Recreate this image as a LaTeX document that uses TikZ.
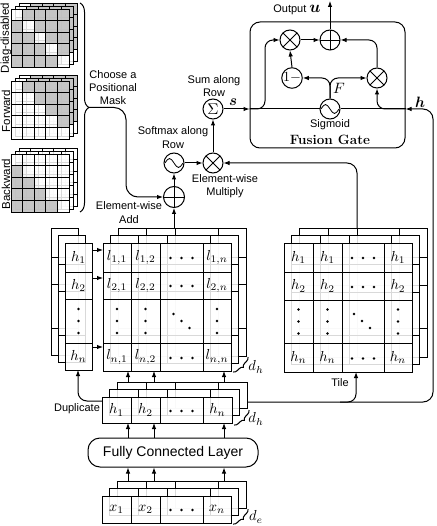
\documentclass[tikz,border=0pt]{standalone}
\usepackage{fontspec}
\usepackage{graphicx}
\usepackage{bm}
\newfontfamily\lsans{Liberation Sans}
\usetikzlibrary{arrows.meta,decorations.pathreplacing,calc}
\definecolor{mgray}{gray}{0.74}
\newcommand{\cm}[1]{\scalebox{1.45}{$#1$}}
\newcommand{\bmm}[1]{\scalebox{1.5}{$#1$}}
\newcommand{\glayer}[7]{%
 \begin{scope}[shift={#1}]
  \fill[white,fill opacity=0.85] (#2,#3) rectangle (#4,#5);
  \foreach \xx in {#6}{\draw[gl] (\xx,#3) -- (\xx,#5);}
  \foreach \yy in {#7}{\draw[gl] (#2,\yy) -- (#4,\yy);}
  \draw[gl] (#2,#3) rectangle (#4,#5);
 \end{scope}}
\newcommand{\maskstack}[2]{%
 \foreach \s in {2,1,0}{%
  \begin{scope}[shift={(4*\s,-3*\s)}]
   \fill[white,fill opacity=0.85] (11,#1) rectangle (69,#1+58);
   \foreach \i in {0,...,4}{\foreach \j in {0,...,4}{%
     \pgfmathtruncatemacro{\g}{(#2==0)*(\i!=\j)+(#2==1)*(\j>\i)+(#2==2)*(\j<\i)}%
     \ifnum\g>0 \fill[mgray,fill opacity=0.85] (11+11.6*\j,#1+11.6*\i) rectangle (22.6+11.6*\j,#1+11.6+11.6*\i);\fi
   }}
   \foreach \k in {1,...,4}{\draw[gl] (11+11.6*\k,#1) -- (11+11.6*\k,#1+58); \draw[gl] (11,#1+11.6*\k) -- (69,#1+11.6*\k);}
   \draw[gl] (11,#1) rectangle (69,#1+58);
  \end{scope}}}
\newcommand{\mhd}[2]{\foreach \k in {-1,0,1}{\fill (#1+11*\k,#2) circle[radius=1.3pt];}}
\newcommand{\mvd}[2]{\foreach \k in {-1,0,1}{\fill (#1,#2+12*\k) circle[radius=1.3pt];}}
\newcommand{\mdd}[2]{\foreach \k in {-1,0,1}{\fill (#1+8*\k,#2+7*\k) circle[radius=1.3pt];}}
\begin{document}
\begin{tikzpicture}[x=1pt,y=-1pt,line width=1pt,
  arr/.style={-{Latex[length=6pt,width=4.5pt]}},
  gl/.style={line width=0.9pt},
  op/.style={circle,draw,minimum size=20pt,inner sep=0pt,fill=white},
  plusop/.style={op,path picture={\draw[line width=0.8pt] ([xshift=-12pt]path picture bounding box.center) -- ([xshift=12pt]path picture bounding box.center) ([yshift=-12pt]path picture bounding box.center) -- ([yshift=12pt]path picture bounding box.center);}},
  timesop/.style={op,path picture={\draw[line width=0.8pt] ([xshift=-9pt,yshift=-9pt]path picture bounding box.center) -- ([xshift=9pt,yshift=9pt]path picture bounding box.center) ([xshift=-9pt,yshift=9pt]path picture bounding box.center) -- ([xshift=9pt,yshift=-9pt]path picture bounding box.center);}},
  sinop/.style={op,path picture={\path (path picture bounding box.center) coordinate (ppc);
     \draw[line width=0.8pt] ($(ppc)+(-9,0)$) sin ($(ppc)+(-4.5,-4.5)$) cos (ppc) sin ($(ppc)+(4.5,4.5)$) cos ($(ppc)+(9,0)$);}},
  lbl/.style={font=\lsans\fontsize{11}{13.3}\selectfont,align=center,inner sep=0pt},
  cell/.style={inner sep=0pt}]
\useasboundingbox (0,0) rectangle (436,526);

% ---------- masks ----------
\maskstack{9}{0}
\maskstack{81}{1}
\maskstack{154}{2}
\node[lbl,rotate=90,font=\lsans\fontsize{11.5}{13}\selectfont] (lbdiag) at (6,38) {Diag-disabled};
\node[lbl,rotate=90,font=\lsans\fontsize{11.5}{13}\selectfont] (lbfwd) at (6,111) {Forward};
\node[lbl,rotate=90,font=\lsans\fontsize{11.5}{13}\selectfont] (lbbwd) at (6,184) {Backward};
\draw[decorate,decoration={brace,amplitude=9pt}] (80,3) -- (80,212);
\coordinate (btip) at (89,107.5);
\node[lbl] (choose) at (113,87.5) {Choose a\\Positional\\Mask};

% ---------- x row ----------
\glayer{(15,-15)}{102}{496}{231}{523}{131,160,203}{496}
\glayer{(7.5,-7.5)}{102}{496}{231}{523}{131,160,203}{496}
\glayer{(0,0)}{102}{496}{231}{523}{131,160,203}{496}
\node[cell] (x1) at (116.5,509.5) {\cm{x_1}};
\node[cell] (x2) at (145.5,509.5) {\cm{x_2}};
\mhd{181.5}{510}
\node[cell] (xn) at (217,509.5) {\cm{x_n}};
\draw[decorate,decoration={brace,amplitude=4pt}] (248,509) -- (233,524);
\node[cell] (de) at (256,517) {\cm{d_e}};

% ---------- FCL ----------
\node[draw,rounded corners=12pt,minimum width=170pt,minimum height=29pt,inner sep=0pt,font=\lsans\fontsize{14}{16}\selectfont] (fcl) at (173,452.5) {Fully Connected Layer};
\foreach \xx in {128,154,224}{\draw[arr] (\xx,481) -- (\xx,0 |- fcl.south);}

% ---------- h row ----------
\glayer{(15,-15)}{102}{397}{232}{423}{131,160,203}{397}
\glayer{(7.5,-7.5)}{102}{397}{232}{423}{131,160,203}{397}
\glayer{(0,0)}{102}{397}{232}{423}{131,160,203}{397}
\node[cell] (hr1) at (116.5,410) {\cm{h_1}};
\node[cell] (hr2) at (145.5,410) {\cm{h_2}};
\mhd{181.5}{411}
\node[cell] (hrn) at (217.5,410) {\cm{h_n}};
\draw[decorate,decoration={brace,amplitude=4pt}] (249,410) -- (234,425);
\node[cell] (dh1) at (256,419) {\cm{d_h}};
\foreach \xx in {128,154,224}{\draw[arr] (\xx,0 |- fcl.north) -- (\xx,423);}
\node[lbl] (dup) at (77,409) {Duplicate};

% ---------- h column ----------
\glayer{(-14,-15)}{65}{243}{92}{370}{65}{272,299,343}
\glayer{(-7,-7.5)}{65}{243}{92}{370}{65}{272,299,343}
\glayer{(0,0)}{65}{243}{92}{370}{65}{272,299,343}
\node[cell] (hc1) at (78.5,257.5) {\cm{h_1}};
\node[cell] (hc2) at (78.5,285.5) {\cm{h_2}};
\mvd{78.5}{321}
\node[cell] (hcn) at (78.5,356.5) {\cm{h_n}};
\draw[arr,rounded corners=9pt] (102,401) -- (78,401) -- (78,370);

% ---------- L matrix ----------
\glayer{(15,-15)}{103}{243}{231}{371}{131,160,203}{272,299,343}
\glayer{(7.5,-7.5)}{103}{243}{231}{371}{131,160,203}{272,299,343}
\glayer{(0,0)}{103}{243}{231}{371}{131,160,203}{272,299,343}
\node[cell] (l11) at (117,257.5) {\cm{l_{1,1}}};
\node[cell] (l12) at (145.5,257.5) {\cm{l_{1,2}}};
\mhd{181.5}{258}
\node[cell] (l1n) at (217,257.5) {\cm{l_{1,n}}};
\node[cell] (l21) at (117,285.5) {\cm{l_{2,1}}};
\node[cell] (l22) at (145.5,285.5) {\cm{l_{2,2}}};
\mhd{181.5}{286}
\node[cell] (l2n) at (217,285.5) {\cm{l_{2,n}}};
\mvd{117}{321}\mvd{145.5}{321}\mdd{181.5}{321}\mvd{217}{321}
\node[cell] (ln1) at (117,357) {\cm{l_{n,1}}};
\node[cell] (ln2) at (145.5,357) {\cm{l_{n,2}}};
\mhd{181.5}{358}
\node[cell] (lnn) at (217,357) {\cm{l_{n,n}}};
\draw[decorate,decoration={brace,amplitude=4pt}] (248,357) -- (233,372);
\node[cell] (dh2) at (256,367) {\cm{d_h}};
\foreach \yy in {250,278,347}{\draw[arr] (92,\yy) -- (103,\yy);}
\foreach \xx in {128,154,224}{\draw[arr] (\xx,382) -- (\xx,371);}

% ---------- tiled H ----------
\glayer{(15,-15)}{284}{243}{412}{372}{313,342,384}{272,300,343}
\glayer{(7.5,-7.5)}{284}{243}{412}{372}{313,342,384}{272,300,343}
\glayer{(0,0)}{284}{243}{412}{372}{313,342,384}{272,300,343}
\node[cell] (t11) at (298.5,257.5) {\cm{h_1}};
\node[cell] (t12) at (327.5,257.5) {\cm{h_1}};
\mhd{363}{258}
\node[cell] (t1n) at (398,257.5) {\cm{h_1}};
\node[cell] (t21) at (298.5,286) {\cm{h_2}};
\node[cell] (t22) at (327.5,286) {\cm{h_2}};
\mhd{363}{287}
\node[cell] (t2n) at (398,286) {\cm{h_2}};
\mvd{298.5}{321.5}\mvd{327.5}{321.5}\mdd{362}{321}\mvd{398}{321.5}
\node[cell] (tn1) at (298.5,357.5) {\cm{h_n}};
\node[cell] (tn2) at (327.5,357.5) {\cm{h_n}};
\mhd{363}{358.5}
\node[cell] (tnn) at (398,357.5) {\cm{h_n}};
\node[lbl] (tile) at (340,383) {Tile};

% ---------- attention ops ----------
\node[plusop,minimum size=21pt] (add1) at (174,197) {};
\node[sinop] (sm) at (174,163) {};
\node[timesop] (mul1) at (213,163) {};
\node[op] (sum) at (213,109) {\scalebox{1.55}{$\Sigma$}};
\node[lbl] (addl) at (129,212.5) {Element-wise\\Add};
\node[lbl] (sml) at (173,137.5) {Softmax along\\Row};
\node[lbl] (mull) at (225,186.5) {Element-wise\\Multiply};
\node[lbl] (suml) at (214,86) {Sum along\\Row};
\draw[arr,rounded corners=12pt] (btip) -- (126,107.5) -- (126,197) -- (add1.west);
\draw[arr] (174,228) -- (add1.south);
\draw[arr] (add1.north) -- (sm.south);
\draw[arr] (sm.east) -- (mul1.west);
\draw[arr] (mul1.north) -- (sum.south);
\draw[arr,rounded corners=10pt] (357,228) |- (mul1.east);

% ---------- fusion gate ----------
\node[draw,rounded corners=10pt,minimum width=155pt,minimum height=126pt,inner sep=0pt] (fg) at (327.5,85) {};
\node[font=\rmfamily\bfseries\fontsize{13.5}{15}\selectfont,inner sep=0pt] (fgl) at (330,140) {Fusion Gate};
\node[timesop] (mulL) at (290,40) {};
\node[plusop] (add2) at (330,40) {};
\node[timesop] (mulR) at (377,78) {};
\node[op] (omn) at (292,78) {\scalebox{1.4}{$1{-}$}};
\node[sinop] (sgm) at (330,109) {};
\node[lbl] (sgml) at (330,125) {Sigmoid};
\coordinate (fgW) at (fg.west |- sgm.center);
\coordinate (fgE) at (fg.east |- sgm.center);
\draw[arr] (sum.east) -- (fgW);
\node[cell] (slab) at (233,102) {\bmm{\bm{s}}};
\draw (fgW) -- (sgm.west);
\draw (fgE) -- (sgm.east);
\draw[arr,rounded corners=8pt] (fgW) -| (265,40) -- (mulL.west);
\draw[arr,rounded corners=8pt] (fgE) -| (mulR.south);
\draw[arr,rounded corners=8pt] (sgm.north) |- (omn.east);
\draw[arr,rounded corners=8pt] (sgm.north) |- (mulR.west);
\node[cell] (Flab) at (339,88) {\bmm{F}};
\draw[arr] (omn.north) -- (mulL.south);
\draw[arr] (mulL.east) -- (add2.west);
\draw[arr,rounded corners=8pt] (mulR.north) |- (add2.east);
\coordinate (outp) at (330,1);
\draw[arr] (add2.north) -- (outp);
\node[lbl,anchor=base] (outl) at (297,13) {Output \bmm{\bm{u}}};

% ---------- h to fusion gate ----------
\coordinate (hout) at (247,402);
\draw[arr,rounded corners=10pt] (hout) -- (433,402) -- (433,109) -- (fgE);
\node[cell] (hlab) at (420,102) {\bmm{\bm{h}}};
\draw[arr,rounded corners=8pt] (340,402) -| (356,372);
\end{tikzpicture}
\end{document}
